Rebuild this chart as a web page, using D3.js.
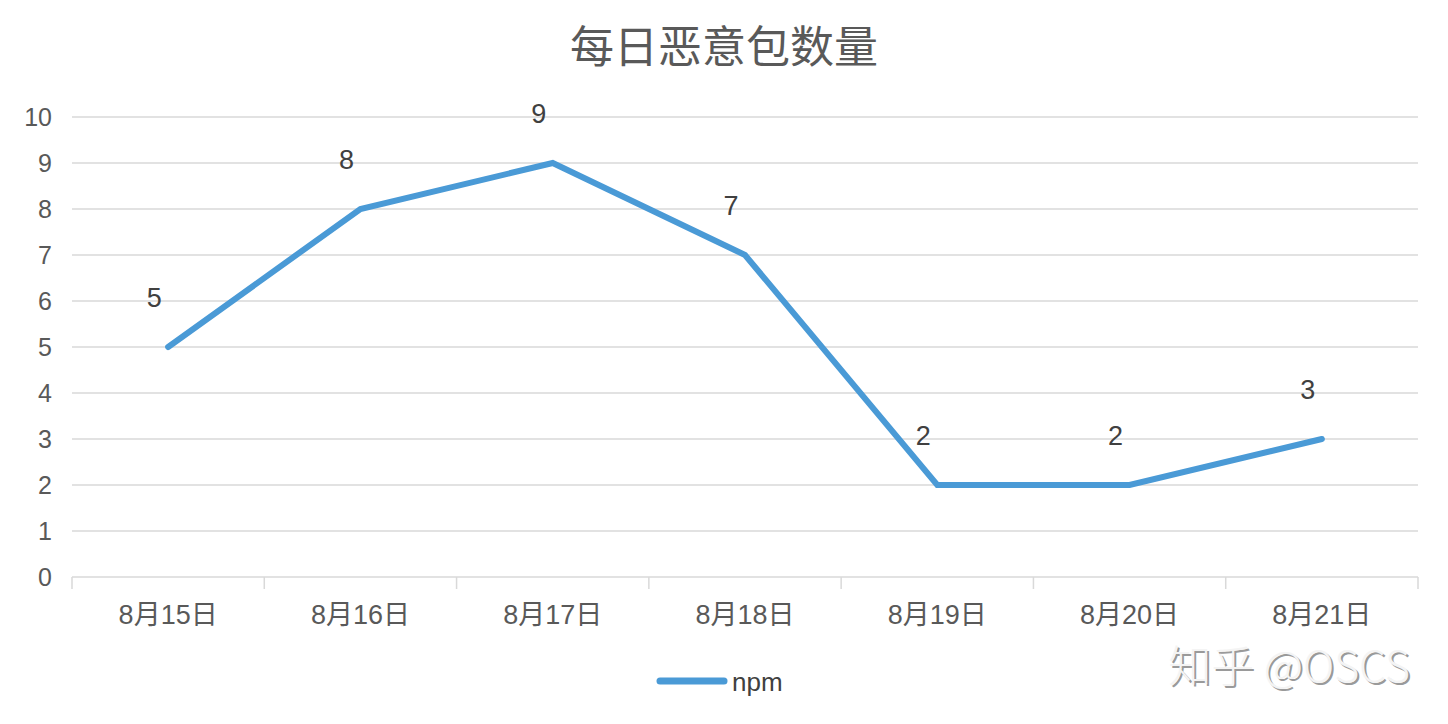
<!DOCTYPE html>
<html lang="zh">
<head>
<meta charset="utf-8">
<title>每日恶意包数量</title>
<style>
  body { margin: 0; background: #fff; }
  svg text { font-family: "Liberation Sans", "Noto Sans CJK SC", sans-serif; }
  .grid line { stroke: #d9d9d9; stroke-width: 1.5; }
  .tick text { fill: #595959; }
</style>
<script src="https://cdn.jsdelivr.net/npm/d3@7"></script>
</head>
<body>
<div id="chart"></div>
<script>
var categories = ["8月15日", "8月16日", "8月17日", "8月18日", "8月19日", "8月20日", "8月21日"];
var npmValues = [5, 8, 9, 7, 2, 2, 3];
var yTicks = [0, 1, 2, 3, 4, 5, 6, 7, 8, 9, 10];
var seriesName = "npm";
var chartTitle = "每日恶意包数量";

var w = 1448, h = 724;
var margin = {top: 117, right: 30, bottom: 147, left: 72};
var lineColor = "#4a9ad6";

var svg = d3.select("#chart").append("svg")
  .attr("width", w).attr("height", h);

var x = d3.scaleBand()
  .domain(categories)
  .range([margin.left, w - margin.right]);

var y = d3.scaleLinear()
  .domain([0, 10])
  .range([h - margin.bottom, margin.top]);

// title
svg.append("text")
  .attr("x", w / 2).attr("y", 63)
  .attr("text-anchor", "middle")
  .style("font-family", "'Noto Sans CJK SC', sans-serif")
  .style("font-size", "44px")
  .style("fill", "#595959")
  .text(chartTitle);

// gridlines
svg.append("g").attr("class", "grid")
  .selectAll("line").data(yTicks.filter(function(d) { return d > 0; }))
  .enter().append("line")
  .attr("x1", margin.left).attr("x2", w - margin.right)
  .attr("y1", function(d) { return y(d); })
  .attr("y2", function(d) { return y(d); });

// y axis labels
var yAxis = d3.axisLeft(y).tickValues(yTicks).tickSize(0).tickPadding(20);
var gy = svg.append("g")
  .attr("transform", "translate(" + margin.left + ",0)")
  .call(yAxis);
gy.select(".domain").remove();
gy.selectAll("text").style("font-size", "25px").style("fill", "#595959");

// x axis
var xTickPos = categories.map(function(c) { return x(c); }).concat([w - margin.right]);
var gx = svg.append("g")
  .attr("transform", "translate(0," + y(0) + ")");
gx.append("line")
  .attr("x1", margin.left).attr("x2", w - margin.right)
  .attr("stroke", "#d9d9d9").attr("stroke-width", 1.5);
gx.selectAll(".xtick").data(xTickPos).enter().append("line")
  .attr("x1", function(d) { return d; }).attr("x2", function(d) { return d; })
  .attr("y1", 0).attr("y2", 12)
  .attr("stroke", "#d9d9d9").attr("stroke-width", 1.5);
gx.selectAll(".xlabel").data(categories).enter().append("text")
  .attr("x", function(d) { return x(d) + x.bandwidth() / 2; })
  .attr("y", 47)
  .attr("text-anchor", "middle")
  .style("font-size", "27px")
  .style("fill", "#595959")
  .text(function(d) { return d; });

// line
var line = d3.line()
  .x(function(d, i) { return x(categories[i]) + x.bandwidth() / 2; })
  .y(function(d) { return y(d); });

svg.append("path")
  .datum(npmValues)
  .attr("d", line)
  .attr("fill", "none")
  .attr("stroke", lineColor)
  .attr("stroke-width", 6)
  .attr("stroke-linejoin", "miter")
  .attr("stroke-linecap", "round");

// data labels
svg.selectAll(".dlabel").data(npmValues).enter().append("text")
  .attr("x", function(d, i) { return x(categories[i]) + x.bandwidth() / 2 - 14; })
  .attr("y", function(d) { return y(d) - 40; })
  .attr("text-anchor", "middle")
  .style("font-size", "27px")
  .style("fill", "#404040")
  .text(function(d) { return d; });

// legend
var lg = svg.append("g").attr("transform", "translate(660,681)");
lg.append("line")
  .attr("x1", 0).attr("x2", 64)
  .attr("stroke", lineColor).attr("stroke-width", 7)
  .attr("stroke-linecap", "round");
lg.append("text")
  .attr("x", 72).attr("y", 10)
  .style("font-size", "26px")
  .style("fill", "#404040")
  .text(seriesName);

// watermark
var wm = svg.append("g").attr("transform", "translate(1410,682)");
wm.append("text")
  .attr("x", 2).attr("y", 2)
  .attr("text-anchor", "end")
  .style("font-family", "'Noto Sans CJK SC', sans-serif")
  .style("font-size", "43px")
  .style("font-weight", "300")
  .style("fill", "#9a9a9a")
  .text("知乎 @OSCS");
wm.append("text")
  .attr("text-anchor", "end")
  .style("font-family", "'Noto Sans CJK SC', sans-serif")
  .style("font-size", "43px")
  .style("font-weight", "300")
  .style("fill", "#f4f4f4")
  .text("知乎 @OSCS");
</script>
</body>
</html>
